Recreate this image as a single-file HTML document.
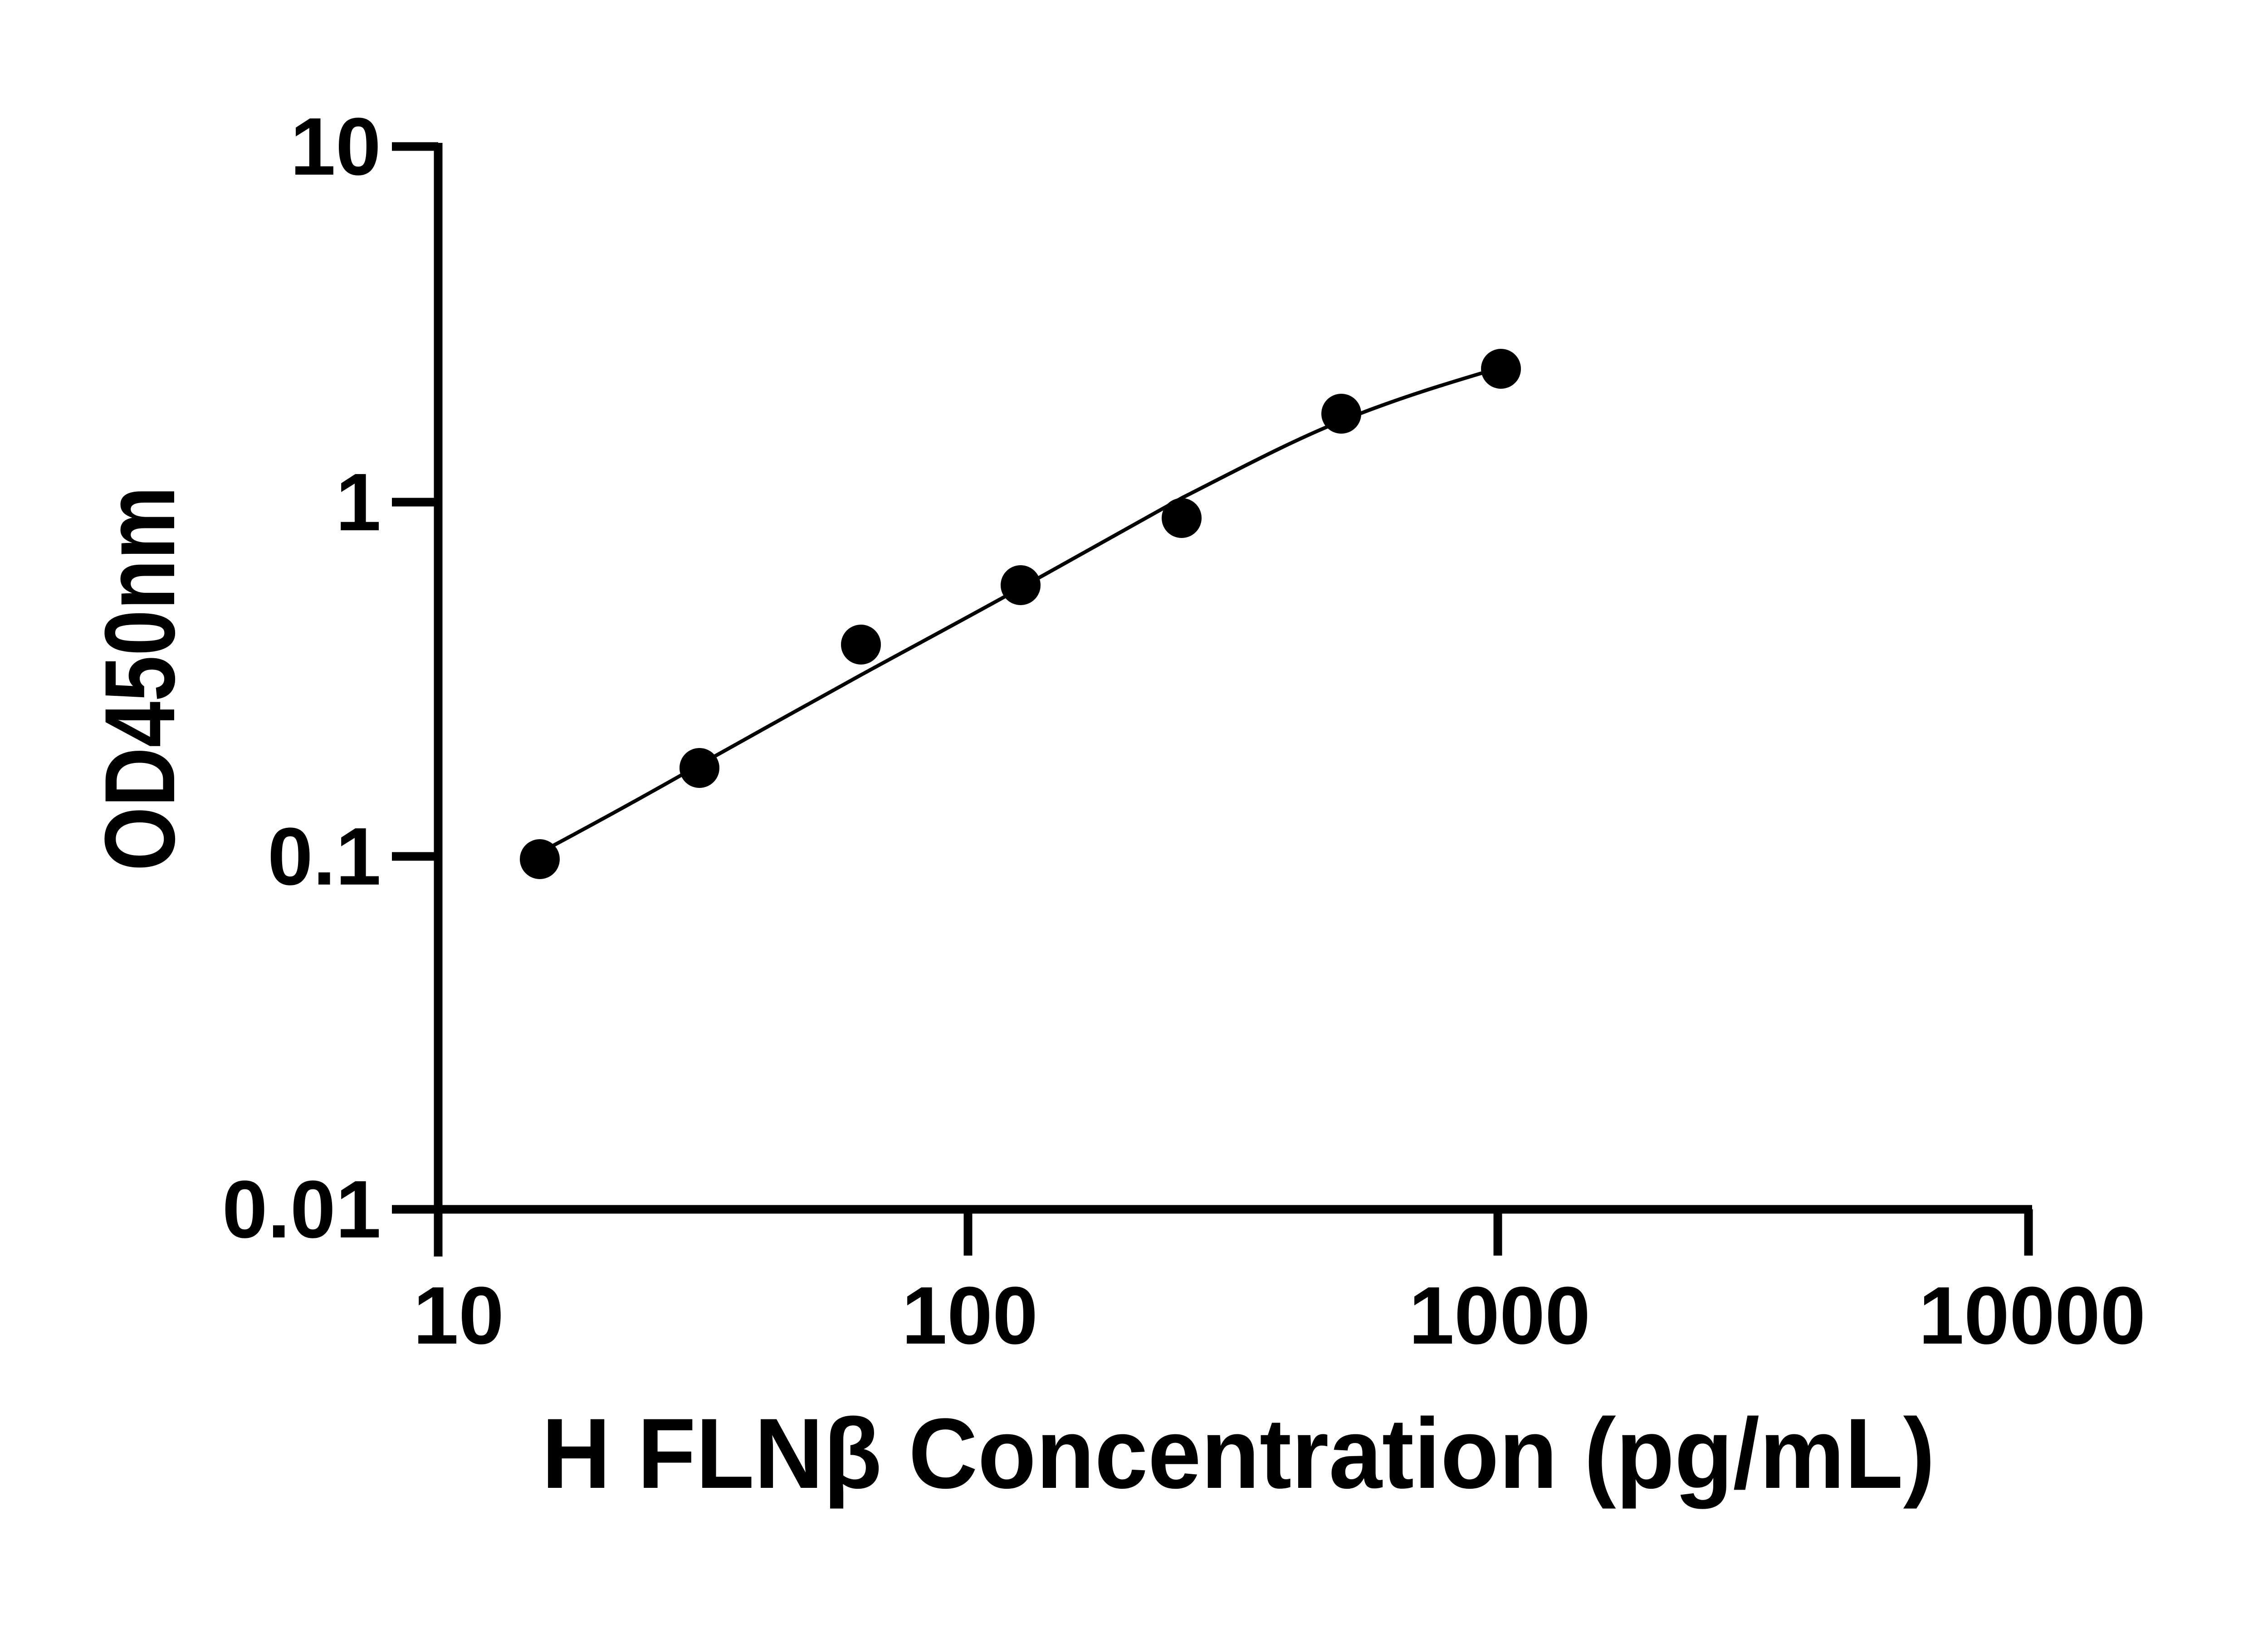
<!DOCTYPE html>
<html><head><meta charset="utf-8"><style>html,body{margin:0;padding:0;background:#fff}svg{display:block}</style></head>
<body>
<svg width="5142" height="3600" viewBox="0 0 5142 3600" xmlns="http://www.w3.org/2000/svg">
<rect width="5142" height="3600" fill="#fff"/>
<g stroke="#000" stroke-width="19" fill="none">
<line x1="966" y1="315" x2="966" y2="2770"/>
<line x1="864" y1="2666" x2="4480" y2="2666"/>
<line x1="864" y1="323" x2="966" y2="323"/>
<line x1="864" y1="1107" x2="966" y2="1107"/>
<line x1="864" y1="1888" x2="966" y2="1888"/>
<line x1="2134" y1="2666" x2="2134" y2="2768"/>
<line x1="3302" y1="2666" x2="3302" y2="2768"/>
<line x1="4472" y1="2666" x2="4472" y2="2768"/>
</g>
<path d="M1216,1866 C1330,1805 1430,1750 1542,1686 C1660,1620 1780,1553 1898,1488 C2015,1424 2135,1360 2250,1296 C2370,1230 2490,1162 2605,1098 C2720,1040 2840,975 2957,928 C3075,880 3190,845 3309,810" stroke="#000" stroke-width="8" fill="none"/>
<g fill="#000">
<circle cx="1190" cy="1894" r="44"/>
<circle cx="1542" cy="1693" r="44"/>
<circle cx="1898" cy="1421" r="44"/>
<circle cx="2250" cy="1290" r="44"/>
<circle cx="2605" cy="1142" r="44"/>
<circle cx="2957" cy="912" r="44"/>
<circle cx="3309" cy="813" r="44"/>
</g>
<g font-family="Liberation Sans, sans-serif" font-weight="bold" font-size="180" fill="#000" text-anchor="end">
<text x="840" y="385">10</text>
<text x="840" y="1169">1</text>
<text x="840" y="1950">0.1</text>
<text x="840" y="2728">0.01</text>
</g>
<g font-family="Liberation Sans, sans-serif" font-weight="bold" font-size="180" fill="#000" text-anchor="middle">
<text x="1011" y="2962">10</text>
<text x="2138" y="2962">100</text>
<text x="3306" y="2962">1000</text>
<text x="4480" y="2962">10000</text>
</g>
<text x="1194" y="3280" font-family="Liberation Sans, sans-serif" font-weight="bold" font-size="220" textLength="3072" lengthAdjust="spacingAndGlyphs">H FLNβ Concentration (pg/mL)</text>
<text transform="translate(384,1920) rotate(-90)" font-family="Liberation Sans, sans-serif" font-weight="bold" font-size="220" textLength="848" lengthAdjust="spacingAndGlyphs">OD450nm</text>
</svg>
</body></html>
